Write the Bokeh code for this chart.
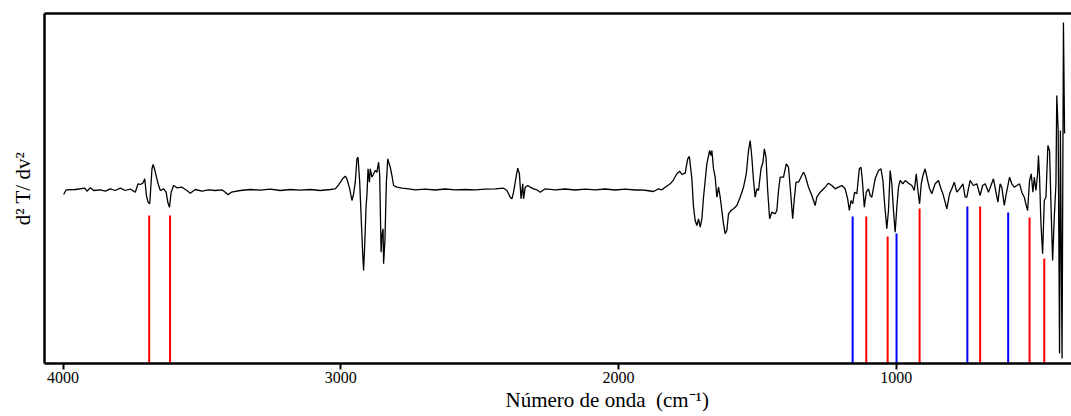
from bokeh.plotting import figure
from bokeh.models import Range1d, FixedTicker, LinearAxis, Title
from bokeh.embed import file_html
from bokeh.resources import INLINE

# Second-derivative spectrum (wavenumber in cm^-1, arbitrary units)
wavenumber = [
    3998, 3989, 3956, 3922, 3914, 3902, 3890, 3866, 3848, 3830, 3812, 3794, 3776, 3758, 3740,
    3730, 3722, 3713, 3706, 3700, 3694, 3688, 3680, 3676, 3670, 3658, 3650, 3638, 3629, 3623,
    3617, 3611, 3602, 3590, 3572, 3554, 3542, 3524, 3500, 3476, 3452, 3428, 3416, 3406, 3394,
    3362, 3326, 3290, 3254, 3218, 3182, 3146, 3110, 3074, 3038, 3020,
    3008, 2992, 2984, 2978, 2968, 2960, 2954, 2948, 2942, 2938, 2932, 2926, 2921, 2918, 2914,
    2909, 2906, 2902, 2897, 2894, 2888, 2882, 2876, 2870, 2864, 2860, 2855, 2852, 2848, 2846,
    2841, 2836, 2831, 2826, 2822, 2816, 2810, 2798, 2780, 2756,
    2732, 2696, 2660, 2624, 2588, 2552, 2516, 2480, 2444, 2414,
    2402, 2390, 2384, 2378, 2368, 2363, 2357, 2351, 2345, 2342, 2336, 2327, 2318, 2306, 2294,
    2282, 2264,
    2228, 2192, 2156, 2120, 2084, 2048, 2012, 1976, 1940, 1922, 1898, 1874, 1856, 1844,
    1832, 1814, 1802, 1790, 1780, 1772, 1760, 1751, 1745, 1742, 1736, 1730, 1724, 1718, 1712,
    1706, 1700, 1694, 1688, 1682, 1672, 1667, 1664, 1658, 1652, 1646, 1640, 1634, 1628, 1622,
    1616, 1610, 1604, 1595, 1586, 1574, 1562, 1550, 1540, 1532, 1526, 1520, 1514, 1508, 1502,
    1496, 1487, 1480, 1475, 1469, 1463, 1456, 1448, 1436, 1430, 1424, 1418, 1406, 1396, 1388,
    1379, 1373, 1367, 1361, 1352,
    1340, 1334, 1328, 1316, 1304, 1292, 1286, 1274, 1256, 1244, 1232, 1220, 1208, 1196, 1184,
    1175, 1169, 1163, 1157, 1150, 1142, 1133, 1127, 1122, 1115, 1108, 1100, 1094, 1088, 1076,
    1064, 1055, 1048, 1042, 1034, 1028, 1022, 1016, 1010, 1004, 998, 992, 986, 976, 968,
    956, 944, 935, 928, 922, 916, 910, 904, 896, 887, 880, 872, 860, 848, 839,
    832, 824, 818, 808, 800, 791, 782, 772,
    760, 752, 746, 734, 722, 710, 698, 689, 680, 668, 659, 650, 641, 634, 626,
    620, 611, 605, 598, 592, 584, 575, 566, 556, 548, 539, 532, 527, 520, 514,
    508, 503, 497, 491, 488, 484, 479, 473, 467, 461, 454, 448, 442, 437, 431,
    425, 422, 417, 412, 409, 403, 398, 394,
]
d2t = [
    -5, -0.3, 0, 1.3, -1.7, 1.7, -1, -0.3, -1.7, 0.7, -1, 1.3, -1, 0.5, -2.7,
    5.7, 5, 6.3, 10.7, -6, -12.7, -14.3, 20.7, 25, 19.7, 5.7, -1, 0.7, -2.7, -12.7,
    -17.7, -2.7, 4, 1.7, 2.3, -1, -3.7, 0, -1.7, -0.3, -1, -0.3, -2.7, -5.3, -2.7,
    -1, 0, -0.7, 0.3, -1, 0, -0.7, 0, -1, 0, 0.7,
    4.7, 11.3, 13.3, 10.7, 0.7, -11, -4.3, 7.3, 30.7, 32.3, 7.3, -32.7, -66, -81, -56,
    -16, -6, 20.7, 7.3, 20.7, 12.3, 15.7, 19, 17.3, 27.3, 14, -62.7, -46, -39.3, -74.3,
    -49.3, 7.3, 30.7, 25.7, 22.3, 14, 4, 2.3, 1.3, 0.7,
    -0.3, 0.3, -0.5, 0.5, -0.3, 0, -0.3, 0.3, 0.7, 1.3,
    -1, -7.7, -9.3, -2.7, 14, 21.3, 15.7, -9.3, 5.7, -9.3, 2.3, 4, 2.3, 0.7, -0.3,
    -2.7, 0.7,
    -0.3, 0.5, -0.5, 0.3, -0.3, 0.5, -0.5, 0.3, -0.5, -0.3, -1, -2, 0.7, -0.3,
    2.3, 5.7, 9.7, 15.7, 18.3, 15, 16.3, 30.7, 33, 25.7, 10.7, -17.7, -31, -36, -29.3,
    -37.7, -29.3, -7.7, 9, 25.7, 39, 34, 39, 20.7, 12.3, -7.7, 2.3, -7.7, -21, -34.3,
    -44.3, -41, -24.3, -21, -19.3, -16, -7.7, 2.3, 15.7, 39, 49, 32.3, 9, -7.7, 0.7,
    -1, 20.7, 27.3, 40.7, 32.3, -1, -29.3, -22.7, -24.3, -21, -1, 12.3, 12.3, 25.7, 22.3,
    -7.7, -29.3, -9.3, 7.3, 7.3,
    14, 17.3, 14, 2.3, -6, -16, -7.7, -2.7, 2.3, 6.3, 4, 0.7, 2.3, 4, 0.7,
    -9.3, -21, -11, -14.3, -2.7, -4.3, 20.7, 22.3, 9, -17.7, -2.7, 0.7, -6, -7.7, 10.7,
    19, 20.7, 9, -14.3, -39.3, -21, 19, 5.7, -21, -42.7, -17.7, 2.3, 9, 5.7, 9,
    6.3, 4, -1, 15.7, -1, -14.3, 5.7, 14, 20.7, 9, 0.7, -4.3, 5.7, 9, 0.7,
    -4.3, -12.7, -19.3, -4.3, 0.7, 7.3, -2.7, 0.7,
    5.7, -7.7, -7.7, 9, 4, 5.7, -6, 4, 5.7, -2.7, 4, 10.7, -2.7, -12.7, 5.7,
    2.3, -16, -6, 4, 12.3, 5.7, 2.3, 4, 5.7, -2.7, -7.7, -16, -21, 9, 15.7,
    -2.7, 12.3, -1, 15.7, 34, 12.3, -34.3, -64.3, -11, -7.7, 44, 39, -24.3, -71, -27.7,
    5.7, 94, 59, -164, 59, -169, 167, 56,
]

# Assigned band positions (cm^-1) and the height their markers reach
red_bands = [3690, 3615, 1108, 1031, 916, 698, 520, 467]
red_tops = [-26, -26, -27, -47, -19, -17, -28, -69]
blue_bands = [1157, 999, 744, 597]
blue_tops = [-27, -44, -17, -23]

x_ticks = [4000, 3000, 2000, 1000]
y_bottom, y_top = -174, 176
x_left, x_right = 4067, 369

FONT = "Liberation Serif"

p = figure(width=1071, height=416, output_backend="svg", toolbar_location=None,
           x_range=Range1d(x_left, x_right), y_range=Range1d(y_bottom, y_top),
           min_border_left=44, min_border_right=0, min_border_top=13, min_border_bottom=53)
p.outline_line_color = None
p.xgrid.visible = False
p.ygrid.visible = False
p.background_fill_color = "white"
p.border_fill_color = "white"

p.segment(x0=red_bands, x1=red_bands, y0=[y_bottom] * len(red_bands), y1=red_tops,
          line_color="#ff0000", line_width=2)
p.segment(x0=blue_bands, x1=blue_bands, y0=[y_bottom] * len(blue_bands), y1=blue_tops,
          line_color="#0000ff", line_width=2)
p.line(wavenumber, d2t, line_color="black", line_width=1.3)

xa = p.xaxis[0]
xa.ticker = FixedTicker(ticks=x_ticks, minor_ticks=[])
xa.major_label_text_font = FONT
xa.major_label_text_font_size = "16px"
xa.major_label_text_color = "black"
xa.major_label_standoff = 2
xa.axis_line_width = 2.5
xa.major_tick_line_width = 2
xa.major_tick_out = 6
xa.major_tick_in = 0
xa.minor_tick_line_color = None

# x-axis title: the original axis runs on past the window, so its title sits right of centre
xtitle = Title(text="Número de onda\u00a0 (cm⁻¹)", align="left", offset=461, standoff=0,
               text_font=FONT, text_font_size="21px", text_font_style="normal",
               text_color="black")
p.add_layout(xtitle, "below")

ya = p.yaxis[0]
ya.ticker = FixedTicker(ticks=[])
ya.major_label_text_font_size = "0px"
ya.axis_label = "d² T/ dv²"
ya.axis_label_text_font = FONT
ya.axis_label_text_font_style = "normal"
ya.axis_label_text_font_size = "21px"
ya.axis_label_text_color = "black"
ya.axis_label_standoff = 10
ya.axis_line_width = 2.5
ya.major_tick_line_color = None
ya.minor_tick_line_color = None

top_axis = LinearAxis(ticker=FixedTicker(ticks=[]), major_label_text_font_size="0px",
                      axis_line_width=2.5, major_tick_line_color=None, minor_tick_line_color=None)
p.add_layout(top_axis, "above")

open("out.html", "w").write(file_html(p, INLINE))
